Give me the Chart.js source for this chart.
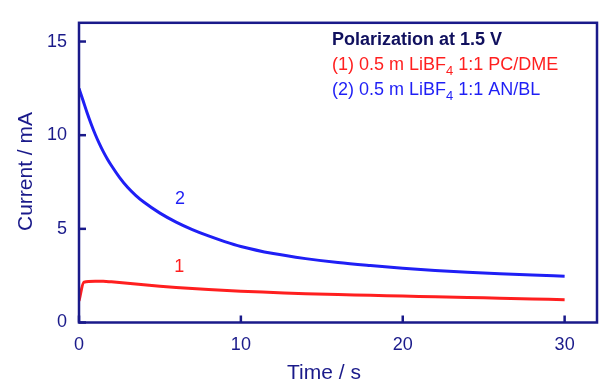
<!DOCTYPE html>
<html>
<head>
<meta charset="utf-8">
<script src="https://cdn.jsdelivr.net/npm/chart.js@4/dist/chart.umd.min.js"></script>
<style>
  html, body { margin: 0; padding: 0; background: #ffffff; }
  #wrap { width: 600px; height: 382px; }
</style>
</head>
<body>
<div id="wrap"><canvas id="c" width="600" height="382"></canvas></div>
<script>
// ---- Data ----
const timeBlue = [0, 0.25, 0.5, 0.75, 1.0, 1.25, 1.5, 1.75, 2.0, 2.5, 3.0, 3.5, 4.0, 5.0, 6.0, 7.0, 8.0, 9.0, 10, 12, 14, 16, 18, 20, 22, 24, 26, 28, 30];
const currentBlue = [12.5, 11.85, 11.2, 10.6, 10.05, 9.56, 9.12, 8.73, 8.38, 7.75, 7.22, 6.79, 6.43, 5.84, 5.36, 4.96, 4.62, 4.32, 4.06, 3.68, 3.41, 3.2, 3.04, 2.9, 2.78, 2.68, 2.6, 2.53, 2.47];
const timeRed = [0, 0.3, 1.0, 1.5, 2, 3, 4, 5, 6, 7, 8, 10, 12, 14, 16, 18, 20, 22, 24, 26, 28, 30];
const currentRed = [1.15, 2.15, 2.2, 2.2, 2.17, 2.1, 2.02, 1.94, 1.87, 1.81, 1.76, 1.67, 1.6, 1.53, 1.49, 1.45, 1.41, 1.37, 1.33, 1.3, 1.26, 1.22];
const xTicks = [0, 10, 20, 30];
const yTicks = [0, 5, 10, 15];
const xTitle = "Time / s";
const yTitle = "Current / mA";
const legendTitle = "Polarization at 1.5 V";
const legendRed = ["(1) 0.5 m LiBF", "4", " 1:1 PC/DME"];
const legendBlue = ["(2) 0.5 m LiBF", "4", " 1:1 AN/BL"];
const curveLabelText = ["1", "2"];
const curveLabelAt = [[6.2, 2.94], [6.24, 6.6]];

const NAVY = "#1a1a8a";
const DARKNAVY = "#10105e";
const RED = "#ff1f1f";
const BLUE = "#1f1ff5";

const toPts = (xs, ys) => xs.map((x, i) => ({ x: x, y: ys[i] }));

const framePlugin = {
  id: 'frame',
  afterDraw(chart) {
    const { ctx, chartArea: a, scales } = chart;
    const xs = scales.x, ys = scales.y;
    ctx.save();
    // frame
    ctx.strokeStyle = NAVY;
    ctx.lineWidth = 2.5;
    ctx.strokeRect(a.left, a.top, a.right - a.left, a.bottom - a.top);
    // inward ticks
    const tl = 7;
    xTicks.forEach(v => {
      const px = xs.getPixelForValue(v);
      ctx.beginPath(); ctx.moveTo(px, a.bottom); ctx.lineTo(px, a.bottom - tl); ctx.stroke();
    });
    yTicks.forEach(v => {
      const py = ys.getPixelForValue(v);
      ctx.beginPath(); ctx.moveTo(a.left, py); ctx.lineTo(a.left + tl, py); ctx.stroke();
    });
    // axis titles
    ctx.fillStyle = NAVY;
    ctx.font = '21px "Liberation Sans", Arial, sans-serif';
    ctx.textAlign = 'center';
    ctx.textBaseline = 'alphabetic';
    ctx.fillText(xTitle, 324, 379);
    ctx.save();
    ctx.translate(32, 171.5);
    ctx.rotate(-Math.PI / 2);
    ctx.fillText(yTitle, 0, 0);
    ctx.restore();
    // legend block
    ctx.textAlign = 'left';
    ctx.fillStyle = DARKNAVY;
    ctx.font = 'bold 18px "Liberation Sans", Arial, sans-serif';
    ctx.fillText(legendTitle, 332, 45);
    const drawSub = (parts, color, y) => {
      ctx.fillStyle = color;
      let x = 332;
      ctx.font = '18px "Liberation Sans", Arial, sans-serif';
      ctx.fillText(parts[0], x, y); x += ctx.measureText(parts[0]).width;
      ctx.font = '13px "Liberation Sans", Arial, sans-serif';
      ctx.fillText(parts[1], x, y + 5); x += ctx.measureText(parts[1]).width;
      ctx.font = '18px "Liberation Sans", Arial, sans-serif';
      ctx.fillText(parts[2], x, y);
    };
    drawSub(legendRed, RED, 70);
    drawSub(legendBlue, BLUE, 95);
    // curve labels
    ctx.font = '18px "Liberation Sans", Arial, sans-serif';
    ctx.textAlign = 'center';
    ctx.textBaseline = 'middle';
    [RED, BLUE].forEach((col, i) => {
      ctx.fillStyle = col;
      ctx.fillText(curveLabelText[i], xs.getPixelForValue(curveLabelAt[i][0]), ys.getPixelForValue(curveLabelAt[i][1]));
    });
    ctx.restore();
  }
};

new Chart(document.getElementById('c'), {
  type: 'scatter',
  data: {
    datasets: [
      { label: 'Curve 1', data: toPts(timeRed, currentRed), showLine: true, borderColor: RED, backgroundColor: RED, borderWidth: 3, pointRadius: 0, cubicInterpolationMode: 'monotone' },
      { label: 'Curve 2', data: toPts(timeBlue, currentBlue), showLine: true, borderColor: BLUE, backgroundColor: BLUE, borderWidth: 3, pointRadius: 0, cubicInterpolationMode: 'monotone' }
    ]
  },
  options: {
    responsive: false,
    devicePixelRatio: 1,
    animation: false,
    layout: { padding: { top: 10, right: 3, left: 0, bottom: 0 } },
    plugins: { legend: { display: false }, tooltip: { enabled: false } },
    scales: {
      x: {
        type: 'linear', min: 0, max: 32,
        afterBuildTicks: s => { s.ticks = xTicks.map(v => ({ value: v })); },
        afterFit: s => { s.height = 59.5; },
        grid: { display: false, drawTicks: false, tickLength: 0 },
        border: { display: false },
        ticks: { color: NAVY, padding: 12, font: { size: 18, family: '"Liberation Sans", Arial, sans-serif' }, maxRotation: 0 }
      },
      y: {
        type: 'linear', min: 0, max: 16,
        afterBuildTicks: s => { s.ticks = yTicks.map(v => ({ value: v })); },
        afterFit: s => { s.width = 79; },
        grid: { display: false, drawTicks: false, tickLength: 0 },
        border: { display: false },
        ticks: { color: NAVY, padding: 12, font: { size: 18, family: '"Liberation Sans", Arial, sans-serif' } }
      }
    }
  },
  plugins: [framePlugin]
});
</script>
</body>
</html>
